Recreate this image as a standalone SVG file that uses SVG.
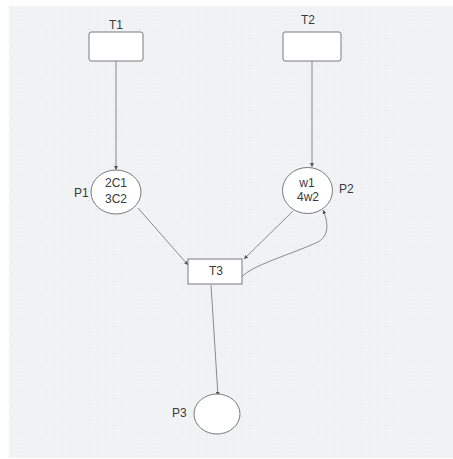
<svg xmlns="http://www.w3.org/2000/svg" width="453" height="459" viewBox="0 0 453 459">
  <style>
    .lbl { font-family: "Liberation Sans", Arial, sans-serif; font-size: 12px; fill: #3a3a3a; }
    .mid { text-anchor: middle; }
    .node { fill: #ffffff; stroke: #7a7a7a; stroke-width: 1; }
    .edge { fill: none; stroke: #707070; stroke-width: 0.8; marker-end: url(#arrow); }
  </style>
  <defs>
    <pattern id="dots" x="3" y="2" width="8.5" height="9" patternUnits="userSpaceOnUse">
      <rect x="0" y="0" width="1" height="1" fill="#d9dadd"/>
    </pattern>
    <marker id="arrow" viewBox="0 0 10 10" refX="10" refY="5" markerWidth="4" markerHeight="4" orient="auto" markerUnits="userSpaceOnUse">
      <path d="M0,0 L10,5 L0,10 z" fill="#555"/>
    </marker>
  </defs>

  <!-- canvas -->
  <rect x="0" y="0" width="453" height="459" fill="#ffffff"/>
  <rect x="9" y="6" width="444" height="452" fill="#f1f2f4"/>
  <rect x="9" y="6" width="444" height="452" fill="url(#dots)"/>

  <!-- connectors -->
  <g id="connectors">
    <path class="edge" d="M116,61 L116,170"/>
    <path class="edge" d="M312,61 L312,167"/>
    <path class="edge" d="M138,208 L188,265"/>
    <path class="edge" d="M293,211 L244,259"/>
    <path class="edge" d="M242,277 C250,266 292,254 318,242 C330,235 328,222 323,210"/>
    <path class="edge" d="M211,285 L218,396"/>
  </g>

  <g id="T1">
    <rect class="node" x="89" y="32" width="54" height="29" rx="2"/>
    <text class="lbl mid" x="116" y="29">T1</text>
  </g>
  <g id="T2">
    <rect class="node" x="283" y="32" width="58" height="29" rx="2"/>
    <text class="lbl mid" x="308" y="24">T2</text>
  </g>
  <g id="P1">
    <ellipse class="node" cx="116" cy="192" rx="25" ry="22"/>
    <text class="lbl mid" x="116" y="187">2C1</text>
    <text class="lbl mid" x="116" y="203">3C2</text>
    <text class="lbl" x="74" y="197">P1</text>
  </g>
  <g id="P2">
    <ellipse class="node" cx="307.5" cy="190.5" rx="25" ry="23"/>
    <text class="lbl mid" x="307" y="187">w1</text>
    <text class="lbl mid" x="308" y="201">4w2</text>
    <text class="lbl" x="339" y="193">P2</text>
  </g>
  <g id="T3">
    <rect class="node" x="188" y="259" width="54" height="25"/>
    <text class="lbl mid" x="216" y="275">T3</text>
  </g>
  <g id="P3">
    <ellipse class="node" cx="217" cy="414" rx="23" ry="20"/>
    <text class="lbl" x="172" y="417">P3</text>
  </g>
</svg>
